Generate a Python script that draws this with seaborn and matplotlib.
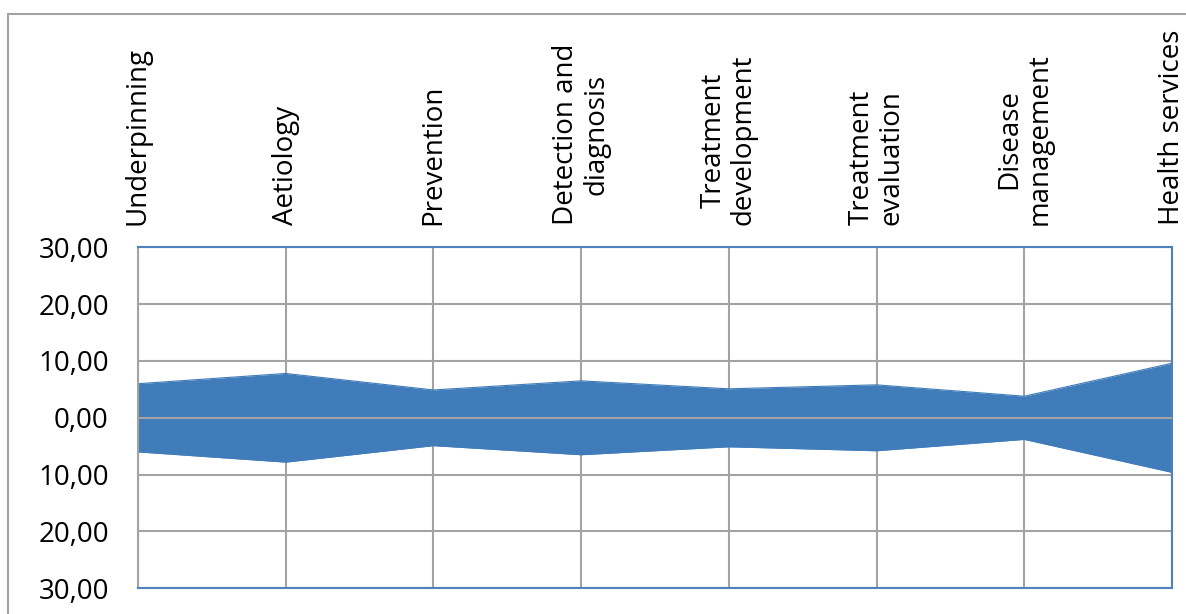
import matplotlib
matplotlib.use("Agg")
import matplotlib.pyplot as plt
from matplotlib.patches import Rectangle
from matplotlib.ticker import FixedLocator, FuncFormatter
import numpy as np
import pandas as pd
import seaborn as sns

# Research activity codes and the share of spend in each (half-width of the band)
categories = [
    "Underpinning",
    "Aetiology",
    "Prevention",
    "Detection and\ndiagnosis",
    "Treatment\ndevelopment",
    "Treatment\nevaluation",
    "Disease\nmanagement",
    "Health services",
]
share = [6.0, 7.8, 4.9, 6.5, 5.1, 5.8, 3.8, 9.6]
y_ticks = [-30, -20, -10, 0, 10, 20, 30]

sns.set_theme(style="white")
plt.rcParams["font.family"] = ["Open Sans", "DejaVu Sans"]

BLUE = "#407cba"
GRID = "#a3a3a3"
FRAME = "#4f81bd"

df = pd.DataFrame({"pos": np.arange(len(categories)), "upper": share})
df["lower"] = -df["upper"]

fig = plt.figure(figsize=(11.86, 6.14), dpi=100)
ax = fig.add_axes([138 / 1186, 1 - 588.3 / 614, (1172 - 138) / 1186, (588.3 - 247.3) / 614])

# chart-area frame
fig.patches.append(Rectangle((8 / 1186, -0.2), 1.5, 1.2 - 14 / 614, transform=fig.transFigure,
                             fill=False, edgecolor=GRID, linewidth=1.5, zorder=0))

ax.fill_between(df["pos"], df["lower"], df["upper"], color=BLUE, linewidth=0, zorder=2)
sns.lineplot(data=df, x="pos", y="upper", ax=ax, color=BLUE, linewidth=0.8, zorder=2)
sns.lineplot(data=df, x="pos", y="lower", ax=ax, color=BLUE, linewidth=0.8, zorder=2)

ax.set_xlim(0, len(categories) - 1)
ax.set_ylim(-30, 30)
ax.set_xlabel("")
ax.set_ylabel("")

# gridlines behind the band, zero axis on top
ax.set_axisbelow(True)
ax.grid(True, color=GRID, linewidth=1.5)
ax.axhline(0, color=GRID, linewidth=1.5, zorder=3)

ax.yaxis.set_major_locator(FixedLocator(y_ticks))
ax.yaxis.set_major_formatter(FuncFormatter(lambda v, _: f"{abs(v):.2f}".replace(".", ",")))
ax.tick_params(axis="y", length=0, pad=21, labelsize=20, labelcolor="black")

ax.xaxis.tick_top()
ax.set_xticks(df["pos"])
ax.set_xticklabels(categories, rotation=90, fontsize=20, multialignment="center",
                   linespacing=1.1)
ax.tick_params(axis="x", length=0, pad=16, labelcolor="black")

for side in ["top", "bottom", "right"]:
    ax.spines[side].set_color(FRAME)
    ax.spines[side].set_linewidth(1.5)
ax.spines["left"].set_color(GRID)
ax.spines["left"].set_linewidth(1.5)

fig.savefig("out.png", dpi=100)
